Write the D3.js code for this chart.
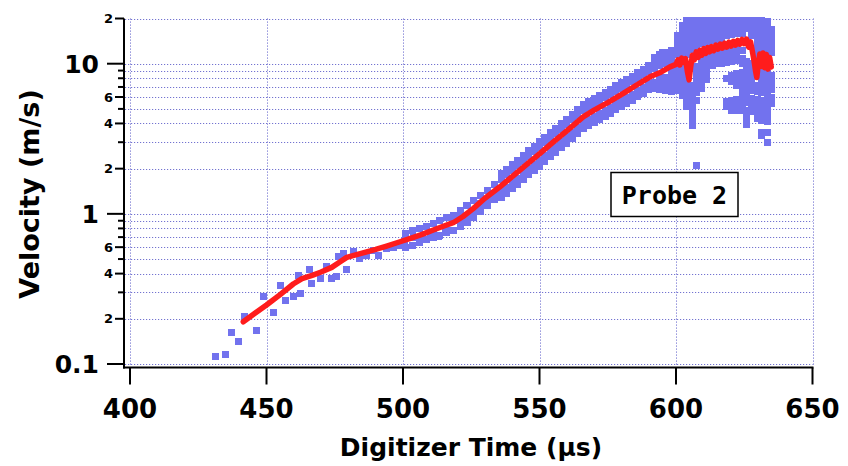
<!DOCTYPE html>
<html>
<head>
<meta charset="utf-8">
<script src="https://cdn.jsdelivr.net/npm/d3@7"></script>
<style>
  body { margin: 0; background: #fff; }
  svg { display: block; }
</style>
</head>
<body>
<svg id="chart" width="848" height="466"></svg>
<script>
// ---- data ----
const xTicks = [400, 450, 500, 550, 600, 650];
const yGrid = [0.1, 0.2, 0.3, 0.4, 0.5, 0.6, 0.7, 0.8, 0.9, 1, 2, 3, 4, 5, 6, 7, 8, 9, 10, 20];
const yMajor = [0.1, 1, 10];
const yMajorLabels = ['0.1', '1', '10'];
const yMinorLabeled = [0.2, 0.4, 0.6, 2, 4, 6, 20];
const yMinorLabels = ['2', '4', '6', '2', '4', '6', '2'];

// smoothed velocity (red)
const redLine = [
  [441.5, 0.191], [445, 0.213], [450, 0.247], [455, 0.29], [459.8, 0.341], [463, 0.37],
  [467, 0.391], [470, 0.41], [473.9, 0.44], [477, 0.48], [479.4, 0.513], [483, 0.535],
  [486.7, 0.559], [490, 0.58], [494, 0.61], [498.9, 0.652], [503, 0.69], [507, 0.73],
  [511.1, 0.78], [515, 0.83], [518.4, 0.873], [522, 0.96], [525.8, 1.088], [530, 1.27],
  [535.5, 1.515], [540, 1.77], [545, 2.11], [550.2, 2.53], [555, 3.0], [560, 3.57],
  [566, 4.43], [570, 4.9], [575, 5.5], [580.7, 6.34], [585, 7.1], [590.5, 8.18],
  [594, 8.7], [597.8, 9.53], [600, 9.9], [600.7, 10.6], [601.4, 9.8], [602.1, 10.9],
  [602.8, 10.2], [603.5, 10.8], [604.2, 8.8], [604.8, 7.8], [605.4, 9.6], [606, 11.4],
  [606.7, 10.6], [607.4, 12.0], [608.1, 11.0], [608.8, 12.3], [609.5, 11.4], [610.2, 12.6],
  [610.9, 11.7], [611.6, 12.8], [612.3, 12.0], [613, 13.0], [613.8, 12.2], [614.6, 13.3],
  [615.4, 12.5], [616.2, 13.5], [617, 12.7], [617.8, 13.7], [618.6, 12.9], [619.4, 13.9],
  [620.2, 13.1], [621, 14.1], [621.8, 13.3], [622.6, 14.3], [623.4, 13.5], [624.2, 14.5],
  [625, 13.6], [625.8, 14.6], [626.6, 12.9], [627.3, 14.0], [628, 12.0], [628.6, 10.4],
  [629.2, 8.8], [629.6, 8.1], [630.1, 9.8], [630.7, 11.6], [631.3, 9.6], [631.9, 11.8],
  [632.5, 9.4], [633.1, 11.5], [633.7, 9.2], [634.3, 11.0], [634.9, 9.5]
];

// raw velocity (blue), sparse early points
const blueEarly = [
  [431.5, 0.112], [434.8, 0.116], [437.2, 0.162], [439.7, 0.141], [442.1, 0.207], [446.2, 0.168],
  [448.8, 0.281], [452.7, 0.22], [455.2, 0.331], [457, 0.264], [459.8, 0.281], [461.9, 0.391],
  [462.3, 0.296], [465.9, 0.423], [466.5, 0.344], [469.6, 0.372], [472, 0.449], [473.9, 0.372],
  [475.7, 0.381], [476.3, 0.518], [478.1, 0.546], [479.4, 0.427], [481.8, 0.559], [484.2, 0.505],
  [486.7, 0.532], [489.1, 0.574], [491, 0.524], [494, 0.589], [496.5, 0.6], [498.9, 0.62],
  [500.7, 0.669], [503.8, 0.698], [506.2, 0.652], [509.9, 0.741], [512.9, 0.704], [515.4, 0.78],
  [518.4, 0.909], [520.3, 0.956], [522.7, 0.872], [523.3, 1.145], [525.8, 1.033], [528.2, 1.175],
  [530.7, 1.236], [533.1, 1.334], [534.9, 1.44]
];

// raw velocity (blue), band columns: [time, velocities]
const blueBand = [
  [501, [0.6, 0.74]], [503.5, [0.62, 0.77]], [506, [0.64, 0.8, 0.68]], [508.5, [0.67, 0.83]],
  [511, [0.7, 0.86, 0.73]], [513.5, [0.72, 0.9]], [516, [0.75, 0.94, 0.78]], [518.5, [0.78, 0.98]],
  [521, [0.83, 1.05, 0.87]], [523.5, [0.88, 1.13, 0.95]], [526, [0.95, 1.22, 1.0]],
  [528.5, [1.03, 1.32, 1.1]], [531, [1.13, 1.44, 1.2]], [533.5, [1.24, 1.58, 1.32]],
  [536, [1.28, 1.40, 1.69, 1.85]], [538, [1.37, 1.50, 1.82, 1.98]], [540, [1.47, 1.61, 1.95, 2.12]],
  [542, [1.58, 1.73, 2.09, 2.28]], [544, [1.69, 1.86, 2.24, 2.45]], [546, [1.82, 1.99, 2.41, 2.63]],
  [548, [1.95, 2.14, 2.59, 2.82]], [550, [2.08, 2.28, 2.76, 3.01]], [552, [2.24, 2.46, 2.97, 3.24]],
  [554, [2.41, 2.64, 3.19, 3.48]], [556, [2.57, 2.82, 3.41, 3.72]], [558, [2.76, 3.03, 3.66, 4.0]],
  [560, [2.96, 3.25, 3.93, 4.28]], [562, [3.19, 3.49, 4.22, 4.61]], [564, [3.42, 3.75, 4.53, 4.94]],
  [566, [3.68, 4.03, 4.87, 5.32]], [568, [3.86, 4.23, 5.12, 5.58]], [570, [4.07, 4.46, 5.39, 5.88]],
  [572, [4.26, 4.67, 5.64, 6.16]], [574, [4.47, 4.9, 5.92, 6.46]], [576, [4.69, 5.14, 6.22, 6.78]],
  [578, [4.92, 5.4, 6.52, 7.12]], [580, [5.17, 5.67, 6.85, 7.48]], [582, [5.44, 5.96, 7.2, 7.86]],
  [584, [5.73, 6.28, 7.59, 8.28]], [586, [6.03, 6.62, 8.0, 8.72]], [588, [6.35, 6.96, 8.42, 9.18]],
  [590, [6.7, 7.34, 8.88, 9.68]], [592, [6.8, 7.5, 9.27, 10.1, 11.0]],
  [594, [6.7, 7.4, 8.1, 9.68, 10.6, 11.5]], [595.2, [11.9]], [596, [6.6, 7.3, 8.1, 10.1, 11.0, 11.9]]
];

// raw velocity (blue), scattered cloud at the end of the record
const blueTail = [
  [598.5, [12.2, 11.2, 10.4, 9.0, 8.2, 7.6, 7.1, 6.5]],
  [600.4, [15.5, 14.0, 12.7, 11.5, 9.3, 8.6, 7.9, 7.3, 6.6]],
  [602.2, [18.0, 16.3, 14.8, 13.4, 12.2, 11.3, 9.4, 8.7, 8.0, 7.4, 6.8, 6.1]],
  [604.0, [19.5, 17.8, 16.2, 14.8, 13.5, 12.3, 11.5, 8.6, 7.8, 7.1, 6.4, 5.8, 5.2]],
  [605.9, [19.5, 17.8, 16.2, 14.8, 13.5, 12.5, 7.2, 6.5, 5.9, 5.3, 4.8, 4.3, 3.9]],
  [607.6, [19.5, 17.8, 16.2, 14.8, 13.5, 12.6, 9.6, 8.7, 7.9, 7.1, 6.4, 5.7, 2.11]],
  [609.5, [19.5, 17.8, 16.2, 14.8, 13.6, 11.0, 10.0, 9.1, 8.3, 7.5, 6.8]],
  [611.3, [19.5, 17.8, 16.2, 14.9, 13.9, 11.2, 10.3, 9.4, 8.6, 7.8]],
  [613.2, [19.5, 17.8, 16.3, 15.0, 14.2, 11.6, 10.6, 9.7]],
  [615.0, [19.5, 17.9, 16.5, 15.2, 14.4, 11.8, 11.0, 10.0]],
  [616.8, [19.5, 17.9, 16.5, 15.3, 14.6, 11.9, 11.0, 10.0]],
  [618.6, [19.5, 18.0, 16.6, 15.5, 12.0, 11.0, 10.2, 8.0, 5.6, 5.2]],
  [620.5, [19.5, 18.0, 16.7, 15.6, 12.2, 11.2, 10.3, 8.3, 7.6, 5.7, 5.2, 4.9]],
  [622.3, [19.5, 18.1, 16.8, 15.9, 12.4, 11.4, 10.5, 8.6, 7.9, 7.2, 5.8, 5.3, 4.9]],
  [624.2, [19.5, 18.2, 17.0, 16.0, 12.3, 10.9, 10.0, 8.8, 8.0, 7.3, 6.6, 6.0, 5.4, 4.9]],
  [626.0, [19.5, 18.3, 17.1, 10.4, 9.4, 8.5, 7.6, 6.8, 6.1, 5.5, 4.9, 4.4, 3.95]],
  [627.8, [19.5, 18.2, 16.8, 15.4, 10.0, 9.0, 8.1, 7.3, 6.6, 5.9, 5.3, 4.8]],
  [629.7, [19.5, 18.0, 16.5, 15.1, 13.8, 12.6, 11.5, 7.2, 6.5, 5.8, 5.2, 4.7, 4.3]],
  [631.5, [19.5, 17.8, 16.2, 14.8, 13.5, 12.4, 8.8, 7.9, 7.1, 6.4, 5.7, 5.1, 4.6, 4.2, 3.5, 3.35]],
  [633.4, [19.2, 17.6, 16.0, 14.6, 13.3, 12.2, 8.6, 7.7, 6.9, 6.2, 5.6, 5.0, 4.5, 4.1, 3.5, 3.0]],
  [634.8, [17.0, 15.5, 14.1, 12.9, 11.8, 8.4, 7.5, 6.7, 6.0, 5.4]]
];

const probeLabel = 'Probe 2';

// ---- layout ----
const gridColor = '#7373d0';
const blueColor = '#7272ee';
const redColor = '#ff1c1c';
const font = "'DejaVu Sans', Verdana, sans-serif";
const sq = 7; // marker size

const svg = d3.select('#chart');

const x = d3.scaleLinear().domain([400, 650]).range([130, 812.5]);
const y = d3.scaleLog().domain([0.1, 20]).range([364, 18.5]);

const axisLeftX = 124;    // left axis sits a little outside the data area
const axisBottomY = 367.5;

// grid
const grid = svg.append('g')
  .attr('stroke', gridColor)
  .attr('stroke-width', 1)
  .attr('stroke-dasharray', '1.2,1.8');

grid.selectAll('.hgrid')
  .data(yGrid)
  .join('line')
    .attr('class', 'hgrid')
    .attr('x1', axisLeftX + 1)
    .attr('x2', x(650))
    .attr('y1', d => Math.round(y(d)) + 0.5)
    .attr('y2', d => Math.round(y(d)) + 0.5);

grid.selectAll('.vgrid')
  .data(xTicks)
  .join('line')
    .attr('class', 'vgrid')
    .attr('x1', d => Math.round(x(d)) + 0.5)
    .attr('x2', d => Math.round(x(d)) + 0.5)
    .attr('y1', y(20))
    .attr('y2', axisBottomY - 1);

// data
svg.append('clipPath').attr('id', 'plotClip')
  .append('rect')
    .attr('x', axisLeftX)
    .attr('y', 17)
    .attr('width', x(650) - axisLeftX + 4)
    .attr('height', axisBottomY - 17);

const bluePoints = blueEarly
  .concat(blueBand.flatMap(([t, vs]) => vs.map(v => [t, v])))
  .concat(blueTail.flatMap(([t, vs]) => vs.map(v => [t, v])));

const plot = svg.append('g').attr('clip-path', 'url(#plotClip)');

plot.selectAll('.raw')
  .data(bluePoints)
  .join('rect')
    .attr('class', 'raw')
    .attr('x', d => Math.round(x(d[0]) - sq / 2))
    .attr('y', d => Math.round(y(d[1]) - sq / 2))
    .attr('width', sq)
    .attr('height', sq)
    .attr('fill', blueColor)
    .attr('shape-rendering', 'crispEdges');

const line = d3.line()
  .x(d => x(d[0]))
  .y(d => y(d[1]));

plot.append('path')
  .datum(redLine)
  .attr('d', line)
  .attr('fill', 'none')
  .attr('stroke', redColor)
  .attr('stroke-width', 5.5)
  .attr('stroke-linejoin', 'round')
  .attr('stroke-linecap', 'round');

// axes
const axes = svg.append('g').attr('stroke', '#000');

axes.append('line')
  .attr('x1', axisLeftX).attr('x2', axisLeftX)
  .attr('y1', y(20)).attr('y2', axisBottomY + 1)
  .attr('stroke-width', 2);

axes.append('line')
  .attr('x1', axisLeftX - 1).attr('x2', x(650) + 1)
  .attr('y1', axisBottomY).attr('y2', axisBottomY)
  .attr('stroke-width', 2);

// x ticks + labels
axes.selectAll('.xtick')
  .data(xTicks)
  .join('line')
    .attr('class', 'xtick')
    .attr('x1', d => x(d)).attr('x2', d => x(d))
    .attr('y1', axisBottomY).attr('y2', axisBottomY + 17)
    .attr('stroke-width', 2);

svg.selectAll('.xlabel')
  .data(xTicks)
  .join('text')
    .attr('class', 'xlabel')
    .attr('x', d => x(d))
    .attr('y', 418)
    .attr('text-anchor', 'middle')
    .attr('font-family', font)
    .attr('font-weight', 'bold')
    .attr('font-size', 26)
    .text(d => d);

// y ticks
const majorSet = new Set(yMajor);
const labeledSet = new Set(yMinorLabeled);
axes.selectAll('.ytick')
  .data(yGrid)
  .join('line')
    .attr('class', 'ytick')
    .attr('x1', d => axisLeftX - (majorSet.has(d) ? 17 : labeledSet.has(d) ? 9 : 6))
    .attr('x2', axisLeftX)
    .attr('y1', d => y(d))
    .attr('y2', d => y(d))
    .attr('stroke-width', 2);

svg.selectAll('.ymajor')
  .data(yMajor)
  .join('text')
    .attr('class', 'ymajor')
    .attr('x', 99)
    .attr('y', d => y(d))
    .attr('dy', '0.36em')
    .attr('text-anchor', 'end')
    .attr('font-family', font)
    .attr('font-weight', 'bold')
    .attr('font-size', 25)
    .text((d, i) => yMajorLabels[i]);

svg.selectAll('.yminor')
  .data(yMinorLabeled)
  .join('text')
    .attr('class', 'yminor')
    .attr('x', 113)
    .attr('y', d => y(d))
    .attr('dy', '0.36em')
    .attr('text-anchor', 'end')
    .attr('font-family', font)
    .attr('font-weight', 'bold')
    .attr('font-size', 13)
    .text((d, i) => yMinorLabels[i]);

// axis titles
svg.append('text')
  .attr('x', 471)
  .attr('y', 456)
  .attr('text-anchor', 'middle')
  .attr('font-family', font)
  .attr('font-weight', 'bold')
  .attr('font-size', 25)
  .text('Digitizer Time (µs)');

svg.append('text')
  .attr('transform', 'translate(39,194) rotate(-90)')
  .attr('text-anchor', 'middle')
  .attr('font-family', font)
  .attr('font-weight', 'bold')
  .attr('font-size', 27)
  .text('Velocity (m/s)');

// annotation box
const box = svg.append('g').attr('transform', 'translate(611,172.5)');
box.append('rect')
  .attr('width', 127)
  .attr('height', 44)
  .attr('fill', '#fff')
  .attr('stroke', '#000')
  .attr('stroke-width', 1.5);
box.append('text')
  .attr('x', 63.5)
  .attr('y', 31)
  .attr('text-anchor', 'middle')
  .attr('font-family', "'DejaVu Sans Mono', monospace")
  .attr('font-weight', 'bold')
  .attr('font-size', 25)
  .text(probeLabel);
</script>
</body>
</html>
